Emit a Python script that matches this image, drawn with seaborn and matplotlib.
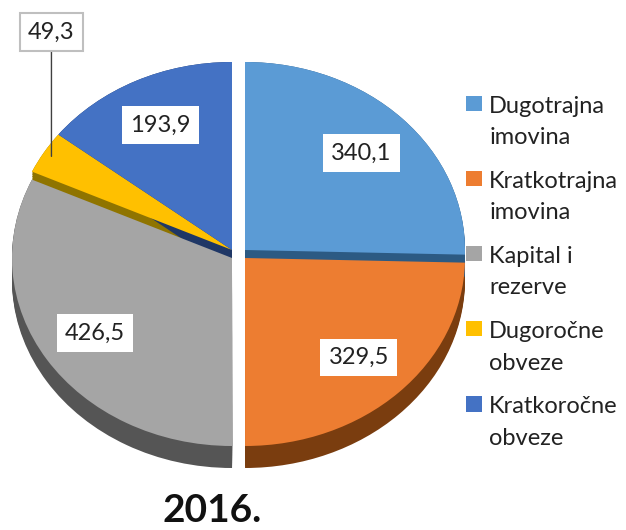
import numpy as np
import matplotlib
matplotlib.use("Agg")
import matplotlib.pyplot as plt
import seaborn as sns
from matplotlib.patches import Rectangle, Wedge
from matplotlib.legend_handler import HandlerPatch

categories = ["Dugotrajna\nimovina", "Kratkotrajna\nimovina", "Kapital i\nrezerve",
              "Dugoročne\nobveze", "Kratkoročne\nobveze"]
values = [340.1, 329.5, 426.5, 49.3, 193.9]
value_labels = ["340,1", "329,5", "426,5", "49,3", "193,9"]
year = "2016."

colors = ["#5B9BD5", "#ED7D31", "#A5A5A5", "#FFC000", "#4472C4"]
side_colors = ["#2C5A83", "#7A3D0F", "#555555", "#8F7400", "#1F3766"]

sns.set_theme(style="white")
plt.rcParams["font.family"] = ["Lato", "DejaVu Sans"]

W, H = 626, 530
fig = plt.figure(figsize=(W / 100, H / 100), dpi=100)
ax = fig.add_axes([0, 0, 1, 1])

# ellipse geometry in pixels (pie is squashed to look tilted)
rx, ry = 220, 188
cx_px, cy_px = 238.5, 254
depth = 22 / ry

# assets go right, liabilities left; top slices lifted a little
side = [1, 1, -1, -1, -1]
lift = [1, -1, -1, 1, 1]
offsets = [(s * 6.5 / rx, l * 4 / ry) for s, l in zip(side, lift)]


def draw(cols, dy):
    wedges, _ = ax.pie(values, colors=cols, startangle=90, counterclock=False,
                       wedgeprops=dict(linewidth=0))
    for w, (ox, oy) in zip(wedges, offsets):
        w.set_center((ox, oy - dy))
    return wedges


for dy in np.linspace(0, depth, 14):
    draw(side_colors, dy)
tops = draw(colors, 0)

# value labels
fracs = np.array(values) / np.sum(values)
starts = np.concatenate([[0], np.cumsum(fracs)[:-1]])
for i, lab in enumerate(value_labels):
    ang = np.deg2rad(90 - (starts[i] + fracs[i] / 2) * 360)
    ox, oy = offsets[i]
    if lab == "49,3":
        ex, ey = ox + 0.96 * np.cos(ang), oy + 0.96 * np.sin(ang)
        ax.annotate(lab, xy=(ex, ey), xytext=(ex, 1.18), ha="center", va="center",
                    fontsize=17, color="#222222",
                    bbox=dict(boxstyle="square,pad=0.35", fc="white", ec="#BFBFBF", lw=1.5),
                    arrowprops=dict(arrowstyle="-", color="#404040", lw=1,
                                    shrinkA=0, shrinkB=0))
    else:
        ax.text(ox + 0.74 * np.cos(ang), oy + 0.74 * np.sin(ang), lab,
                ha="center", va="center", fontsize=17, color="#222222",
                bbox=dict(boxstyle="square,pad=0.35", fc="white", ec="none"))

ax.set_xlim(-cx_px / rx, (W - cx_px) / rx)
ax.set_ylim(-(H - cy_px) / ry, cy_px / ry)
ax.set_aspect("auto")
ax.axis("off")


def square_top(legend, orig_handle, xdescent, ydescent, width, height, fontsize):
    # square sits on the first of the two label lines
    return Rectangle((-xdescent, 14.0), 11.5, 11.0)


leg = fig.legend(tops, categories, loc="upper left", bbox_to_anchor=(466 / W, 1 - 96 / H),
                 frameon=False, fontsize=17, handlelength=0.68, handletextpad=0.3,
                 labelspacing=0.97, borderpad=0, borderaxespad=0,
                 handler_map={Wedge: HandlerPatch(patch_func=square_top)})
for t in leg.get_texts():
    t.set_linespacing(1.6)
    t.set_color("#222222")

fig.text(212 / W, 1 - 510 / H, year, ha="center", va="center",
         fontsize=28, fontweight="bold", color="#111111")

fig.savefig("out.png", dpi=100)
plt.close(fig)
